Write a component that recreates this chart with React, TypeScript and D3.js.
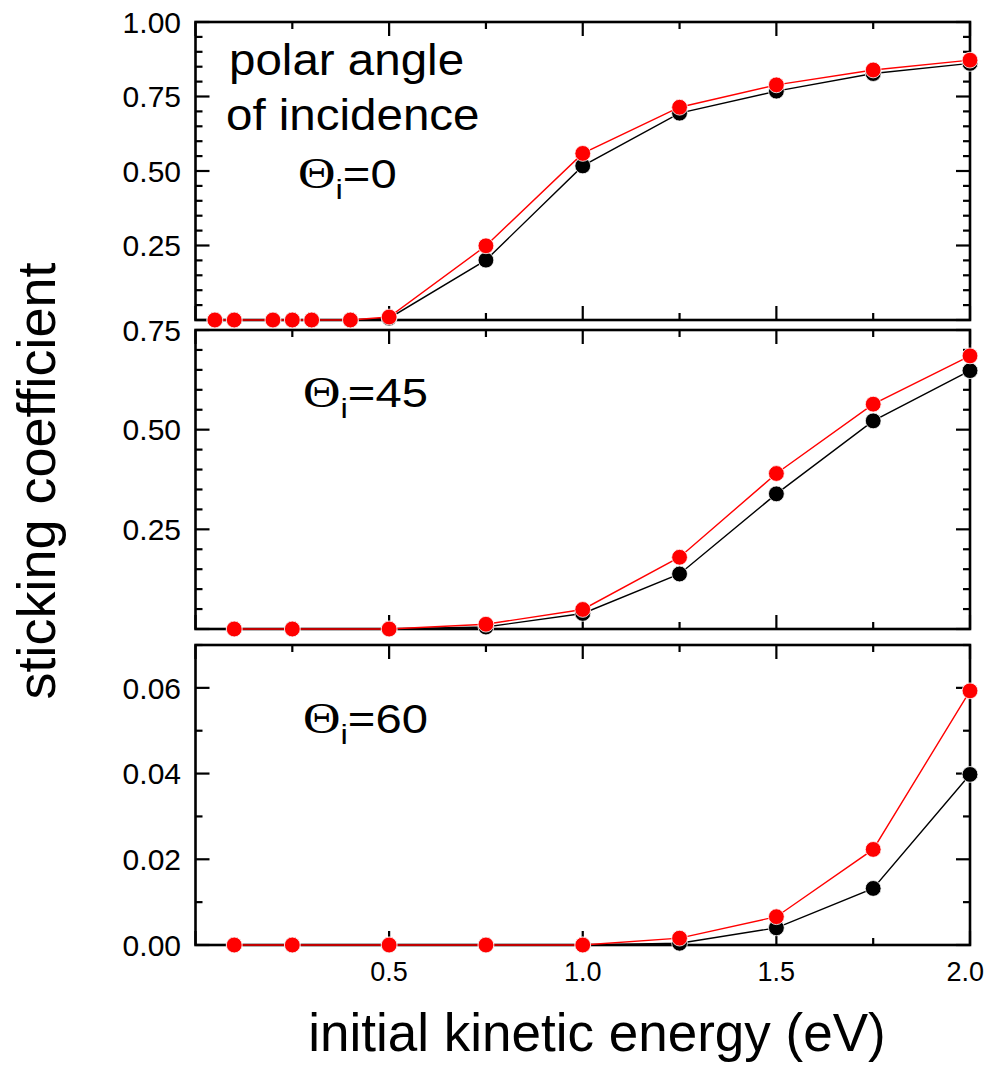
import React from "react";
import * as d3 from "d3";

// Incident kinetic energies (eV)
const energiesNormal = [0.05, 0.1, 0.2, 0.25, 0.3, 0.4, 0.5, 0.75, 1.0, 1.25, 1.5, 1.75, 2.0];
const energiesOblique = [0.1, 0.25, 0.5, 0.75, 1.0, 1.25, 1.5, 1.75, 2.0];

// Sticking coefficients, Θi = 0
const s0Black = [0, 0, 0, 0, 0, 0, 0.006, 0.201, 0.517, 0.694, 0.768, 0.827, 0.861];
const s0Red = [0, 0, 0, 0, 0, 0, 0.01, 0.249, 0.559, 0.714, 0.789, 0.839, 0.872];

// Θi = 45
const s45Black = [0, 0, 0, 0.005, 0.039, 0.138, 0.339, 0.522, 0.648];
const s45Red = [0, 0, 0, 0.012, 0.049, 0.18, 0.39, 0.564, 0.685];

// Θi = 60
const s60Black = [0, 0, 0, 0, 0, 0.0004, 0.004, 0.0132, 0.0398];
const s60Red = [0, 0, 0, 0, 0, 0.0016, 0.0066, 0.0223, 0.0593];

const xTicksMajor = [0.5, 1.0, 1.5, 2.0];
const xTickLabels = ["0.5", "1.0", "1.5", "2.0"];

const W = 985;
const H = 1066;
const LEFT = 195.5;
const RIGHT = 970;
const SANS = "'Liberation Sans', Arial, Helvetica, sans-serif";
const SERIF = "'Liberation Serif', 'Times New Roman', serif";

const x = d3.scaleLinear().domain([0, 2]).range([LEFT, RIGHT]);

type PanelSpec = {
  top: number;
  bottom: number;
  yMax: number;
  major: number;
  minor: number;
  labels: number[];
  fmt: (v: number) => string;
  energies: number[];
  black: number[];
  red: number[];
};

const panels: PanelSpec[] = [
  {
    top: 22, bottom: 320, yMax: 1.0, major: 0.25, minor: 0.05,
    labels: [0.25, 0.5, 0.75, 1.0], fmt: d3.format(".2f"),
    energies: energiesNormal, black: s0Black, red: s0Red,
  },
  {
    top: 330, bottom: 629, yMax: 0.75, major: 0.25, minor: 0.05,
    labels: [0.25, 0.5, 0.75], fmt: d3.format(".2f"),
    energies: energiesOblique, black: s45Black, red: s45Red,
  },
  {
    top: 645, bottom: 945, yMax: 0.07, major: 0.02, minor: 0.01,
    labels: [0, 0.02, 0.04, 0.06], fmt: d3.format(".2f"),
    energies: energiesOblique, black: s60Black, red: s60Red,
  },
];

const MAJ = 14;
const MIN = 7;

function Panel({ p }: { p: PanelSpec }) {
  const y = d3.scaleLinear().domain([0, p.yMax]).range([p.bottom, p.top]);
  const nMinor = Math.round(p.yMax / p.minor);
  const yMinor = d3.range(0, nMinor + 1).map((i) => i * p.minor);
  const isMajorY = (v: number) => Math.abs(v / p.major - Math.round(v / p.major)) < 1e-6;
  const xMinor = d3.range(0, 9).map((i) => i * 0.25);
  const isMajorX = (v: number) => Math.abs(v / 0.5 - Math.round(v / 0.5)) < 1e-6;
  const line = d3
    .line<number>()
    .x((_, i) => x(p.energies[i]))
    .y((d) => y(d));

  return (
    <g>
      {/* y ticks, left and right, pointing inward */}
      {yMinor.map((v, i) => {
        const len = isMajorY(v) ? MAJ : MIN;
        const yy = y(v);
        return (
          <g key={"y" + i} stroke="#000" strokeWidth={2.2}>
            <line x1={LEFT} x2={LEFT + len} y1={yy} y2={yy} />
            <line x1={RIGHT} x2={RIGHT - len} y1={yy} y2={yy} />
          </g>
        );
      })}
      {/* x ticks, top and bottom, pointing inward */}
      {xMinor.map((v, i) => {
        const len = isMajorX(v) ? MAJ : MIN;
        const xx = x(v);
        return (
          <g key={"x" + i} stroke="#000" strokeWidth={2.2}>
            <line x1={xx} x2={xx} y1={p.bottom} y2={p.bottom - len} />
            <line x1={xx} x2={xx} y1={p.top} y2={p.top + len} />
          </g>
        );
      })}
      <rect
        x={LEFT}
        y={p.top}
        width={RIGHT - LEFT}
        height={p.bottom - p.top}
        fill="none"
        stroke="#000"
        strokeWidth={2.6}
      />
      {p.labels.map((v) => (
        <text
          key={"l" + v}
          x={181}
          y={y(v)}
          dy="0.36em"
          textAnchor="end"
          fontFamily={SANS}
          fontSize={30}
          fill="#000"
        >
          {p.fmt(v)}
        </text>
      ))}
      {/* data */}
      <path d={line(p.black) || ""} fill="none" stroke="#000" strokeWidth={1.4} />
      {p.black.map((v, i) => (
        <circle key={"b" + i} cx={x(p.energies[i])} cy={y(v)} r={7.9} fill="#000" stroke="#fff" strokeWidth={0.8} />
      ))}
      <path d={line(p.red) || ""} fill="none" stroke="#ff0000" strokeWidth={1.4} />
      {p.red.map((v, i) => (
        <circle key={"r" + i} cx={x(p.energies[i])} cy={y(v)} r={7.9} fill="#ff0000" stroke="#fff" strokeWidth={0.8} />
      ))}
    </g>
  );
}

function Theta({ x0, y0, value }: { x0: number; y0: number; value: string }) {
  return (
    <text
      transform={`translate(${x0}, ${y0}) scale(1.18, 1)`}
      fontFamily={SANS}
      fontSize={40}
      fill="#000"
    >
      <tspan fontFamily={SERIF} fontSize={44}>Θ</tspan>
      <tspan dy={11} fontSize={28}>i</tspan>
      <tspan dy={-11}>={value}</tspan>
    </text>
  );
}

export default function App() {
  return (
    <div style={{ position: "absolute", left: 0, top: 0 }}>
      <svg width={W} height={H} viewBox={`0 0 ${W} ${H}`} style={{ display: "block", background: "#fff" }}>
        <rect x={0} y={0} width={W} height={H} fill="#fff" />
        {panels.map((p, i) => (
          <Panel key={i} p={p} />
        ))}
        {/* x tick labels under the lowest panel; the last one is kept inside the page */}
        {xTicksMajor.map((v, i) => {
          const last = i === xTicksMajor.length - 1;
          return (
            <text
              key={"xl" + i}
              x={last ? 984 : x(v)}
              y={981}
              textAnchor={last ? "end" : "middle"}
              fontFamily={SANS}
              fontSize={27}
              fill="#000"
            >
              {xTickLabels[i]}
            </text>
          );
        })}
        <text transform="translate(229, 75) scale(1.08, 1)" fontFamily={SANS} fontSize={44} fill="#000">
          polar angle
        </text>
        <text transform="translate(226, 130) scale(1.08, 1)" fontFamily={SANS} fontSize={44} fill="#000">
          of incidence
        </text>
        <Theta x0={298} y0={188} value="0" />
        <Theta x0={303} y0={407} value="45" />
        <Theta x0={303} y0={733} value="60" />
        <text
          transform={`translate(55, 481) rotate(-90)`}
          textAnchor="middle"
          fontFamily={SANS}
          fontSize={54}
          fill="#000"
        >
          sticking coefficient
        </text>
        <text x={597} y={1051} textAnchor="middle" fontFamily={SANS} fontSize={53} fill="#000">
          initial kinetic energy (eV)
        </text>
      </svg>
    </div>
  );
}
